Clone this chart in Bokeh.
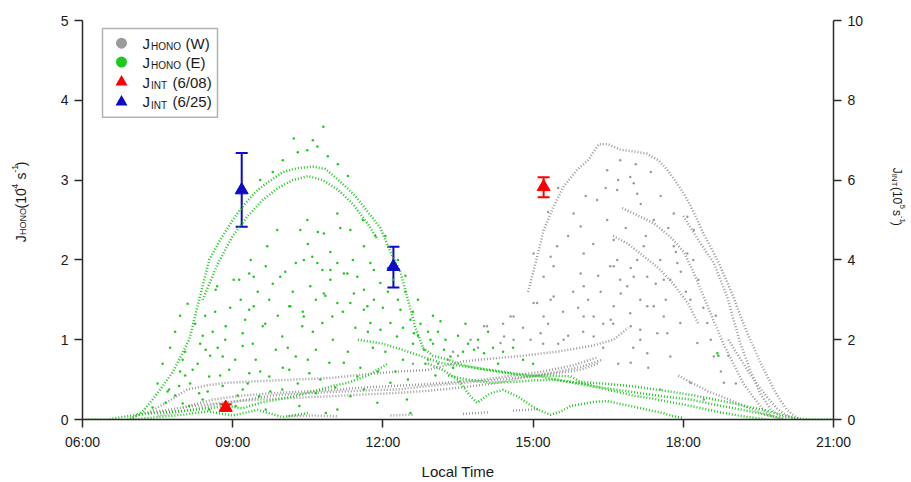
import math
from bokeh.plotting import figure
from bokeh.layouts import row
from bokeh.models import (Range1d, LinearAxis, FixedTicker, Label, BoxAnnotation,
                          Whisker, TeeHead, ColumnDataSource)
from bokeh.embed import file_html
from bokeh.resources import INLINE

# ---------------- data (local time in hours, J values) ----------------
X_TICKS = [6, 9, 12, 15, 18, 21]
X_TICK_LABELS = ["06:00", "09:00", "12:00", "15:00", "18:00", "21:00"]
Y_LEFT_TICKS = [0, 1, 2, 3, 4, 5]
Y_RIGHT_TICKS = [0, 2, 4, 6, 8, 10]

# J_HONO (E) - dense traces
E_ARC_T = [6.95, 7.2, 7.45, 7.8, 8.13, 8.33, 8.53, 8.75, 9.0, 9.2, 9.45, 9.65, 10.0, 10.3, 10.6, 10.85, 11.15, 11.45, 11.7, 11.95, 12.15, 12.35, 12.5, 12.65, 12.8]
E_ARC_V = [0.0, 0.1, 0.29, 0.59, 1.0, 1.5, 2.0, 2.25, 2.5, 2.67, 2.85, 2.95, 3.1, 3.15, 3.17, 3.14, 2.98, 2.8, 2.6, 2.4, 2.1, 1.85, 1.5, 1.15, 0.9]
E_ARC2_T = [8.4, 8.7, 9.0, 9.3, 9.6, 9.9, 10.2, 10.5, 10.8, 11.1, 11.4, 11.7, 11.9]
E_ARC2_V = [1.5, 1.95, 2.3, 2.55, 2.75, 2.9, 3.0, 3.05, 3.0, 2.88, 2.7, 2.45, 2.25]
E_AFT1_T = [12.8, 13.0, 13.3, 13.6, 14.0, 14.3, 14.6, 14.95, 15.3, 15.75, 15.95, 16.4, 16.94, 17.4, 17.94, 18.4, 18.94, 19.3, 19.6, 19.9, 20.2, 20.5, 21.0]
E_AFT1_V = [0.9, 0.8, 0.75, 0.68, 0.63, 0.6, 0.57, 0.54, 0.55, 0.54, 0.47, 0.45, 0.42, 0.38, 0.33, 0.28, 0.21, 0.16, 0.12, 0.07, 0.02, 0.0, 0.0]
E_AFT2_T = [11.5, 12.0, 12.5, 13.15, 13.6, 14.15, 14.6, 15.15, 15.6, 16.15, 16.6, 17.15, 17.6, 18.15, 18.6, 19.14, 19.5, 19.8, 20.0]
E_AFT2_V = [1.0, 0.95, 0.85, 0.71, 0.67, 0.62, 0.58, 0.54, 0.48, 0.42, 0.38, 0.33, 0.29, 0.25, 0.19, 0.125, 0.08, 0.04, 0.0]
E_AFT3_T = [13.3, 13.7, 14.15, 14.6, 15.0, 15.48, 16.0, 16.48, 17.0, 17.4, 17.81, 18.3, 18.81, 19.3, 19.7]
E_AFT3_V = [0.55, 0.5, 0.46, 0.47, 0.49, 0.5, 0.45, 0.375, 0.3, 0.26, 0.21, 0.15, 0.08, 0.03, 0.0]
E_LOW_T = [12.9, 13.2, 13.5, 13.75, 13.88, 14.15, 14.4, 14.69, 14.9, 15.09, 15.35, 15.55, 15.75, 15.95, 16.2, 16.48, 16.94, 17.3, 17.6, 17.8, 18.0]
E_LOW_V = [0.7, 0.62, 0.5, 0.29, 0.21, 0.33, 0.37, 0.29, 0.2, 0.125, 0.06, 0.1, 0.17, 0.19, 0.22, 0.23, 0.17, 0.12, 0.08, 0.04, 0.02]
E_MORN_T = [6.0, 6.5, 7.09, 7.6, 8.22, 8.89, 9.2, 9.55, 9.9, 10.22, 10.6, 11.0, 11.29, 11.7, 12.1]
E_MORN_V = [0.0, 0.0, 0.06, 0.09, 0.12, 0.17, 0.14, 0.21, 0.25, 0.29, 0.35, 0.42, 0.46, 0.55, 0.7]
E_MORN2_T = [7.0, 7.5, 8.0, 8.5, 9.0, 9.5, 10.0, 10.5]
E_MORN2_V = [0.0, 0.03, 0.06, 0.1, 0.05, 0.12, 0.03, 0.08]

# J_HONO (E) - scattered points
E_SCAT_T = [10.22, 10.49, 10.69, 9.89, 10.49, 11.09, 10.35, 10.82, 11.35, 11.62, 10.42, 10.69, 10.95, 11.22, 11.49, 10.55, 10.82, 11.09, 11.42, 9.69, 9.36, 9.02, 8.69, 9.16, 9.42, 10.15, 10.42, 11.69, 11.95, 11.75, 9.42, 9.95,
            8.66, 9.13, 9.33, 9.66, 10.26, 10.59, 10.79, 9.33, 9.73, 10.13, 10.66, 8.86, 9.2, 9.6, 9.99, 10.39, 10.79, 8.46, 8.8, 9.2, 9.46, 9.86, 10.26, 10.66, 8.2, 8.53, 8.93, 9.33, 9.73, 10.13, 10.53, 10.93, 7.93, 8.33, 8.8, 9.2, 9.53, 9.99, 10.66, 7.66, 8.13, 8.53, 9.06, 9.66, 10.33, 10.86, 7.73, 8.0,
            10.99, 11.35, 11.62, 11.82, 11.75, 11.95, 12.15, 12.35, 12.55, 12.28, 12.62, 12.95, 13.15, 12.82, 13.22, 13.35, 11.22, 11.49, 11.62, 11.89, 11.09, 11.35, 12.48, 12.55, 12.15, 10.95, 11.29, 11.09, 11.82, 11.62, 13.82, 14.02,
            7.5, 7.6, 7.75, 7.85, 7.95, 8.05, 8.1, 8.25, 7.7, 7.4, 8.35, 8.45, 8.6, 8.7, 8.4, 8.0,
            12.05, 12.1, 12.2, 12.3, 12.4, 12.45, 12.6, 12.7, 12.75, 12.9, 13.0, 13.1,
            9.8, 10.0, 10.3, 10.9, 11.1, 11.3, 9.55, 10.6, 10.81,
            13.5, 13.7, 13.9, 14.2, 14.4, 14.8, 18.68, 18.7,
            7.85, 7.95, 8.05, 8.15, 8.3, 8.4, 8.5, 8.55, 8.65, 8.75, 8.85, 8.95, 9.05, 9.1, 9.25, 9.3, 9.4, 9.5, 9.55, 9.65,
            9.75, 9.8, 9.9, 10.0, 10.05, 10.1, 10.2, 10.3, 10.4, 10.5, 10.5, 10.6, 10.7, 10.75, 10.85, 10.95, 11.0, 11.05, 11.15, 11.2,
            11.3, 11.4, 11.45, 11.55, 11.6, 11.7, 11.8, 11.85, 11.9, 12.0, 12.05, 12.1, 12.25, 12.3, 12.4, 12.45, 12.5, 12.6, 12.7, 12.85,
            13.0, 13.05, 13.25, 13.4, 13.6, 13.65, 14.1, 14.3, 14.6, 15.0]
E_SCAT_V = [3.52, 3.375, 3.42, 2.375, 2.5, 2.58, 2.375, 2.33, 2.375, 2.17, 2.0, 1.96, 1.875, 1.83, 1.79, 1.67, 1.58, 1.46, 1.58, 2.17, 2.0, 1.75, 1.67, 1.5, 1.42, 1.42, 1.29, 1.42, 1.71, 1.96, 1.79, 1.79,
            1.625, 1.75, 1.83, 1.92, 1.96, 2.04, 1.875, 1.375, 1.5, 1.42, 1.5, 1.17, 1.08, 1.17, 1.04, 1.17, 1.21, 0.875, 0.79, 0.92, 0.75, 0.875, 0.79, 0.875, 0.625, 0.54, 0.625, 0.58, 0.54, 0.625, 0.58, 0.71, 0.42, 0.33, 0.42, 0.375, 0.29, 0.375, 0.33, 0.21, 0.17, 0.125, 0.17, 0.125, 0.17, 0.08, 0.375, 0.75,
            1.29, 1.46, 1.375, 1.5, 1.21, 1.125, 1.21, 1.375, 1.25, 1.04, 1.08, 1.0, 1.23, 0.875, 0.875, 0.79, 0.71, 0.54, 0.375, 0.21, 0.125, 0.29, 0.25, 0.08, 0.46, 1.75, 1.83, 1.96, 1.875, 1.625, 0.875, 0.83,
            0.45, 0.7, 0.9, 1.1, 1.3, 0.55, 1.45, 1.2, 0.35, 0.15, 0.95, 1.3, 1.1, 0.9, 0.25, 0.2,
            2.3, 1.6, 1.75, 1.5, 1.15, 1.6, 1.35, 1.05, 1.2, 1.1, 0.95, 1.1,
            3.1, 3.25, 3.35, 3.3, 3.2, 3.05, 3.0, 3.5, 3.67,
            1.05, 0.95, 1.0, 0.9, 0.85, 0.75, 0.83, 0.8,
            0.3, 0.6, 0.85, 0.45, 0.7, 1.05, 0.35, 0.8, 1.35, 0.55, 1.0, 1.4, 0.75, 0.3, 1.25, 0.45, 0.95, 1.6, 0.6, 1.2,
            0.35, 1.7, 1.3, 0.65, 1.85, 0.9, 1.6, 0.45, 1.35, 2.2, 0.75, 1.1, 2.35, 0.5, 1.55, 2.1, 1.0, 0.4, 2.4, 1.35,
            0.85, 2.0, 1.15, 0.65, 2.5, 1.1, 0.9, 2.3, 0.6, 1.4, 0.85, 1.9, 0.6, 2.0, 0.75, 1.8, 0.5, 0.95, 1.5, 0.7,
            1.3, 0.55, 1.0, 0.65, 0.85, 1.2, 1.1, 0.7, 0.9, 0.7]

# J_HONO (W) - dense traces
W_ARC1_T = [14.9, 15.05, 15.21, 15.41, 15.61, 15.88, 16.1, 16.31, 16.5, 16.75, 17.0, 17.28, 17.5, 17.68, 17.85, 18.01, 18.15, 18.28, 18.4, 18.54, 18.74, 18.87, 19.0, 19.14, 19.28, 19.41, 19.54, 19.68, 19.81, 19.94, 20.07, 20.2, 20.34]
W_ARC1_V = [1.6, 1.96, 2.37, 2.67, 2.92, 3.13, 3.25, 3.45, 3.45, 3.38, 3.36, 3.33, 3.25, 3.13, 2.98, 2.83, 2.67, 2.5, 2.33, 2.17, 1.92, 1.73, 1.54, 1.3, 1.08, 0.9, 0.71, 0.54, 0.375, 0.24, 0.125, 0.05, 0.0]
W_ARC1B_T = [18.0, 18.3, 18.61, 18.87, 19.14, 19.35, 19.54, 19.75, 19.94, 20.1]
W_ARC1B_V = [2.55, 2.25, 1.96, 1.55, 0.95, 0.6, 0.32, 0.12, 0.04, 0.0]
W_ARC2_T = [16.78, 17.08, 17.41, 17.74, 18.01, 18.2, 18.4, 18.6, 18.8, 19.0, 19.2, 19.4, 19.6, 19.8]
W_ARC2_V = [2.65, 2.56, 2.46, 2.29, 2.1, 1.85, 1.55, 1.25, 0.95, 0.7, 0.45, 0.28, 0.12, 0.03]
W_ARC2B_T = [16.6, 16.9, 17.2, 17.5, 17.8, 18.1, 18.3]
W_ARC2B_V = [2.3, 2.2, 2.05, 1.9, 1.7, 1.45, 1.2]
W_ARC3_T = [18.9, 19.1, 19.3, 19.5, 19.7, 19.9, 20.1, 20.25]
W_ARC3_V = [1.0, 0.8, 0.6, 0.42, 0.26, 0.12, 0.04, 0.0]
W_MID_T = [7.3, 7.7, 8.09, 8.5, 8.89, 9.5, 10.22, 10.95, 11.55, 12.29, 12.88, 13.62, 14.28, 14.81, 15.48, 16.15, 16.61, 16.9]
W_MID_V = [0.08, 0.22, 0.375, 0.43, 0.46, 0.48, 0.5, 0.52, 0.56, 0.6, 0.62, 0.73, 0.77, 0.8, 0.85, 0.92, 1.0, 1.15]
W_LOW1_T = [6.9, 7.22, 7.7, 8.22, 8.9, 9.55, 10.2, 10.89, 11.5, 12.22, 12.9, 13.55, 14.2, 14.95, 15.5, 15.95, 16.3]
W_LOW1_V = [0.0, 0.08, 0.12, 0.17, 0.22, 0.25, 0.27, 0.29, 0.31, 0.33, 0.36, 0.4, 0.45, 0.54, 0.58, 0.625, 0.7]
W_LOW2_T = [7.5, 8.0, 8.6, 9.2, 9.8, 10.5, 11.2, 11.9, 12.29, 12.9, 13.62, 14.3, 14.95, 15.5, 15.95, 16.4]
W_LOW2_V = [0.05, 0.1, 0.18, 0.24, 0.3, 0.33, 0.35, 0.37, 0.375, 0.42, 0.46, 0.5, 0.54, 0.6, 0.66, 0.75]
W_LOW3_T = [8.0, 8.6, 9.2, 9.8, 10.4, 11.0, 11.6, 12.2, 12.8, 13.4, 14.0, 14.6, 15.2, 15.8, 16.3]
W_LOW3_V = [0.15, 0.25, 0.3, 0.33, 0.35, 0.37, 0.4, 0.42, 0.44, 0.47, 0.5, 0.55, 0.6, 0.68, 0.78]
W_TAIL_T = [17.9, 18.2, 18.5, 18.8, 19.1, 19.4, 19.7, 20.0]
W_TAIL_V = [0.55, 0.45, 0.35, 0.28, 0.2, 0.12, 0.05, 0.0]
W_SEG_T = [[10.1, 10.6, 11.1], [12.15, 12.6], [13.6, 14.1], [14.6, 15.1]]
W_SEG_V = [[0.04, 0.05, 0.04], [0.05, 0.06], [0.07, 0.09], [0.11, 0.13]]

# J_HONO (W) - scattered points
W_SCAT_T = [15.21, 15.41, 15.48, 15.81, 15.95, 16.01, 15.95, 16.48, 16.74, 16.94, 17.01, 17.08, 16.68, 16.28, 16.48, 16.61, 16.68, 16.74, 16.54, 16.88, 17.41, 17.14, 17.61, 17.88, 18.08, 17.81, 18.21, 18.08, 17.81, 17.41, 17.21, 17.54, 17.28, 16.94, 16.61, 15.08, 15.41, 16.01, 17.08,
            16.61, 17.01, 16.75, 17.28, 17.61, 17.48, 17.14, 16.95, 16.55, 16.21, 16.01, 17.74, 18.14, 17.94, 17.74, 18.28, 18.48, 18.61, 18.81, 17.28, 16.95, 18.14, 18.41, 17.54,
            15.01, 15.35, 15.01, 15.21, 15.35, 14.61, 14.08, 13.75, 14.42, 15.61, 14.95,
            14.02, 14.55, 15.15, 16.21, 17.14, 17.68, 14.61, 14.35,
            15.3, 15.6, 15.8, 16.1, 16.3, 15.5, 16.0, 16.4, 13.1, 13.3, 13.5,
            15.3, 15.5, 15.7, 15.9, 16.05, 16.2, 16.35, 16.45, 16.6, 16.7, 16.85, 16.95, 17.05, 17.15, 17.25, 17.35, 17.45, 17.55, 17.65, 17.7,
            17.85, 17.95, 18.05, 18.2, 18.3, 18.4, 18.55, 18.65, 18.75, 18.9, 19.05, 17.3, 17.0, 16.7, 16.4, 15.7, 15.2, 14.8, 14.4, 13.9,
            13.4, 12.9, 12.6]
W_SCAT_V = [1.79, 1.92, 2.17, 2.58, 2.42, 2.08, 1.83, 3.125, 3.25, 3.04, 2.96, 2.83, 2.875, 2.75, 2.5, 2.25, 2.0, 1.75, 1.92, 1.67, 1.42, 1.5, 1.75, 1.96, 2.08, 2.17, 2.375, 2.54, 2.58, 2.5, 2.17, 2.0, 1.79, 1.33, 1.42, 1.46, 1.54, 1.67, 2.0,
            1.92, 1.79, 1.58, 1.42, 1.29, 1.08, 1.0, 1.17, 1.25, 1.04, 1.29, 1.75, 1.5, 1.21, 0.79, 0.96, 1.21, 0.79, 0.46, 0.83, 0.71, 0.46, 0.25, 0.375,
            2.08, 2.04, 1.46, 1.29, 1.5, 1.29, 1.17, 1.0, 1.04, 1.0, 1.0,
            1.17, 1.29, 1.08, 1.29, 1.125, 1.08, 1.0, 0.96,
            1.2, 1.35, 1.6, 1.5, 1.8, 0.95, 1.1, 1.2, 0.7, 0.75, 0.8,
            2.6, 2.9, 2.3, 1.4, 2.8, 2.2, 1.6, 2.9, 1.2, 3.0, 2.4, 1.9, 3.2, 2.7, 2.3, 3.1, 1.7, 2.8, 1.5, 2.4,
            2.1, 1.85, 1.6, 2.0, 1.75, 1.4, 1.0, 1.3, 0.6, 0.8, 0.45, 0.65, 0.9, 0.7, 0.9, 1.05, 0.95, 1.15, 1.2, 0.9,
            0.85, 0.75, 0.7]

# J_INT (right axis, 10^-5 s^-1)
INT_0608_T = [8.86, 15.21]
INT_0608_V = [0.30, 5.83]
INT_0608_LO = [0.22, 5.57]
INT_0608_HI = [0.38, 6.07]
INT_0625_T = [9.18, 12.21]
INT_0625_V = [5.75, 3.83]
INT_0625_LO = [4.83, 3.31]
INT_0625_HI = [6.68, 4.33]

# ---------------- styling ----------------
GREEN = "#1ec81e"
GREY = "#9b9b9b"
RED = "#ff0000"
BLUE = "#0a0ac8"
AXC = "#2a2a2a"
TXT = "#1a1a1a"
FONT = "Liberation Sans"

W_TOTAL, H_TOTAL = 911, 482
LW, RW = 32, 26                      # side strips holding the rotated axis titles
X0, X1, Y0, Y1 = 6, 21, 0, 5
FL, FR, FT, FB = 82, 833, 20, 420   # frame edges in page pixels


def sx(px):
    return X0 + (px - FL) * (X1 - X0) / (FR - FL)


def sy(py):
    return Y0 + (FB - py) * (Y1 - Y0) / (FB - FT)


MW = W_TOTAL - LW - RW
p = figure(width=MW, height=H_TOTAL, x_range=Range1d(X0, X1), y_range=Range1d(Y0, Y1),
           output_backend="svg", toolbar_location=None,
           min_border_left=FL - LW, min_border_right=(LW + MW) - FR, min_border_top=FT,
           min_border_bottom=H_TOTAL - FB)
p.outline_line_color = None
p.grid.visible = False
p.extra_y_ranges = {"int": Range1d(0, 10)}

p.xaxis.ticker = FixedTicker(ticks=X_TICKS)
p.xaxis.major_label_overrides = {t: l for t, l in zip(X_TICKS, X_TICK_LABELS)}
p.xaxis.axis_label = "Local Time"
p.xaxis.axis_label_text_font = FONT
p.xaxis.axis_label_text_font_size = "15px"
p.xaxis.axis_label_text_font_style = "normal"
p.xaxis.axis_label_text_color = TXT
p.xaxis.axis_label_standoff = 10
p.yaxis.ticker = FixedTicker(ticks=Y_LEFT_TICKS)

right = LinearAxis(y_range_name="int", ticker=FixedTicker(ticks=Y_RIGHT_TICKS))
p.add_layout(right, "right")

for ax in p.xaxis + p.yaxis + [right]:
    ax.axis_line_color = AXC
    ax.axis_line_width = 1.5
    ax.major_tick_line_color = AXC
    ax.major_tick_line_width = 1.5
    ax.major_tick_out = 8
    ax.major_tick_in = 0
    ax.minor_tick_out = 0
    ax.minor_tick_in = 0
    ax.major_label_text_font = FONT
    ax.major_label_text_font_size = "14px"
    ax.major_label_text_color = TXT
    ax.major_label_standoff = 6

# grey (W) traces
w_traces = [(W_LOW1_T, W_LOW1_V), (W_LOW2_T, W_LOW2_V), (W_LOW3_T, W_LOW3_V), (W_MID_T, W_MID_V),
            (W_ARC1_T, W_ARC1_V), (W_ARC1B_T, W_ARC1B_V), (W_ARC2_T, W_ARC2_V), (W_ARC2B_T, W_ARC2B_V),
            (W_ARC3_T, W_ARC3_V), (W_TAIL_T, W_TAIL_V)]
for t, v in w_traces:
    p.line(t, v, line_color=GREY, line_width=2.5, line_dash="1 2")
p.multi_line(W_SEG_T, W_SEG_V, line_color=GREY, line_width=2.5, line_dash="1 2")
p.scatter(W_SCAT_T, W_SCAT_V, size=2.5, marker="circle", fill_color=GREY, line_color=None)

# green (E) traces
e_traces = [(E_MORN_T, E_MORN_V), (E_MORN2_T, E_MORN2_V), (E_ARC_T, E_ARC_V), (E_ARC2_T, E_ARC2_V),
            (E_AFT1_T, E_AFT1_V), (E_AFT2_T, E_AFT2_V), (E_AFT3_T, E_AFT3_V), (E_LOW_T, E_LOW_V)]
for t, v in e_traces:
    p.line(t, v, line_color=GREEN, line_width=2.5, line_dash="1 2")
p.scatter(E_SCAT_T, E_SCAT_V, size=2.5, marker="circle", fill_color=GREEN, line_color=None)

# J_INT with error bars
for T, V, LO, HI, col in [(INT_0608_T, INT_0608_V, INT_0608_LO, INT_0608_HI, RED),
                          (INT_0625_T, INT_0625_V, INT_0625_LO, INT_0625_HI, BLUE)]:
    src = ColumnDataSource(data=dict(t=T, v=V, lo=LO, hi=HI))
    wk = Whisker(source=src, base="t", lower="lo", upper="hi", dimension="height",
                 y_range_name="int", line_color=col, line_width=2,
                 upper_head=TeeHead(size=12, line_color=col, line_width=2),
                 lower_head=TeeHead(size=12, line_color=col, line_width=2))
    p.add_layout(wk)
    p.scatter("t", "v", source=src, marker="triangle", size=13, fill_color=col,
              line_color=col, y_range_name="int")

# ---------------- legend (drawn by hand to allow subscripts) ----------------
p.add_layout(BoxAnnotation(left=sx(102), right=sx(217), top=sy(28), bottom=sy(117),
                           fill_color="white", fill_alpha=1, line_color="black",
                           line_width=1.5, level="underlay"))
rows = [42.7, 61.7, 81.7, 101.7]
leg_x = [sx(121)] * 4
leg_y = [sy(r) for r in rows]
p.scatter(leg_x[:2], leg_y[:2], marker="circle", size=11, fill_color=[GREY, GREEN], line_color=None)
p.scatter(leg_x[2:], leg_y[2:], marker="triangle", size=12, fill_color=[RED, BLUE], line_color=None)


def txt(fig, text, x, y, size, angle=0.0, align="left", baseline="middle"):
    fig.add_layout(Label(x=x, y=y, text=text, text_font=FONT,
                         text_font_size=f"{size}px", text_color=TXT, angle=angle,
                         text_align=align, text_baseline=baseline))


legend_parts = [("HONO", "(W)"), ("HONO", "(E)"), ("INT", "(6/08)"), ("INT", "(6/25)")]
for (sub, tail), r in zip(legend_parts, rows):
    txt(p, "J", sx(142), sy(r), 15)
    txt(p, sub, sx(150.5), sy(r + 3.5), 10)
    txt(p, tail, sx(185 if sub == "HONO" else 172), sy(r), 15)


# ---------------- side strips with rotated axis titles ----------------
def strip(width):
    f = figure(width=width, height=H_TOTAL, x_range=Range1d(0, width), y_range=Range1d(H_TOTAL, 0),
               output_backend="svg", toolbar_location=None, x_axis_type=None, y_axis_type=None,
               min_border=0)
    f.outline_line_color = None
    f.grid.visible = False
    return f


left_strip = strip(LW)
right_strip = strip(RW)

A = math.pi / 2
for text, size, bx, start in [("J", 14, 20.5, 268), ("HONO", 9, 22.5, 259), ("(10", 14, 20.5, 227),
                              ("-4", 9, 14, 207), ("s", 14, 20.5, 192), ("-1", 9, 14, 184),
                              (")", 14, 20.5, 176)]:
    txt(left_strip, text, bx, start, size, angle=A, baseline="alphabetic")

R0 = LW + MW
for text, size, bx, start in [("J", 12, 896, 178), ("INT", 8, 893.5, 185), ("(10", 12, 896, 201),
                              ("-5", 8, 901.5, 219), ("s", 12, 896, 229), ("-1", 8, 901.5, 236),
                              (")", 12, 896, 243)]:
    txt(right_strip, text, bx - R0, start, size, angle=-A, baseline="alphabetic")

layout = row(left_strip, p, right_strip, spacing=0)
open("out.html", "w").write(file_html(layout, INLINE))
